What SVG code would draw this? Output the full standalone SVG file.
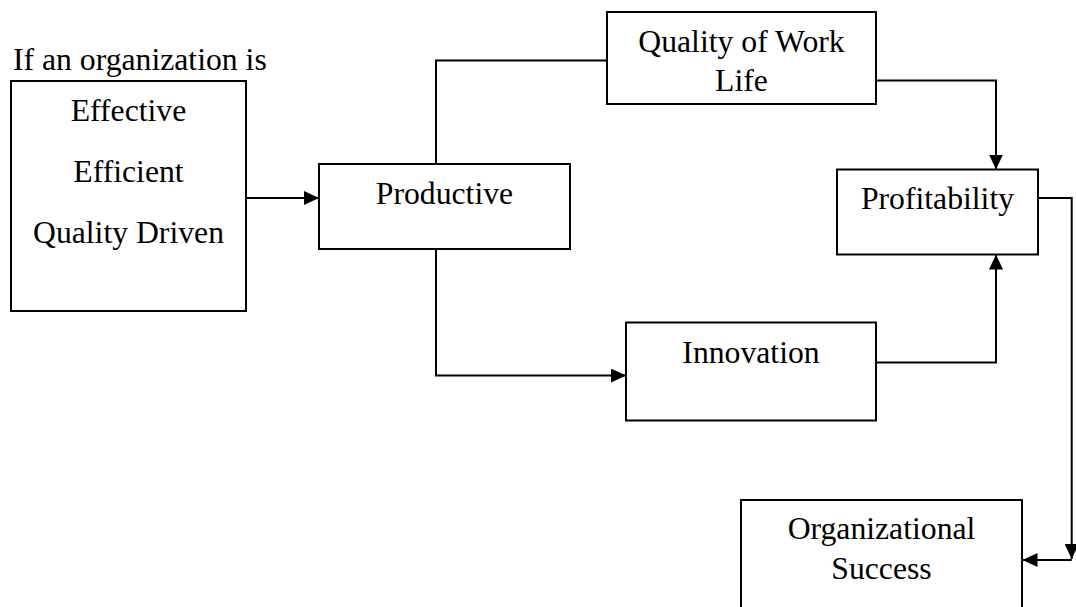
<svg xmlns="http://www.w3.org/2000/svg" width="1076" height="607" viewBox="0 0 1076 607">
  <defs>
    <marker id="arrow" markerUnits="userSpaceOnUse" markerWidth="15" markerHeight="14" refX="15" refY="7" orient="auto">
      <path d="M0,0 L15,7 L0,14 Z" fill="#000"/>
    </marker>
    <style>
      .box { fill: #fff; stroke: #000; stroke-width: 2; }
      .wire { fill: none; stroke: #000; stroke-width: 2; }
      .lbl { font-family: "Liberation Serif", "Times New Roman", serif; font-size: 31.7px; fill: #000; text-anchor: middle; }
      .cap { font-family: "Liberation Serif", "Times New Roman", serif; font-size: 31.7px; fill: #000; }
    </style>
  </defs>
  <rect width="1076" height="607" fill="#fff"/>

  <g id="connectors">
    <path class="wire" d="M246,198 H319" marker-end="url(#arrow)"/>
    <path class="wire" d="M436,170 V60.5 H607"/>
    <path class="wire" d="M876,80.5 H996 V169.5" marker-end="url(#arrow)"/>
    <path class="wire" d="M436,249 V375.5 H626" marker-end="url(#arrow)"/>
    <path class="wire" d="M876,362.5 H996 V254.5" marker-end="url(#arrow)"/>
    <path class="wire" d="M1038,198 H1071.7 V559" marker-end="url(#arrow)"/>
    <path class="wire" d="M1071.7,560 H1022.5" marker-end="url(#arrow)"/>
  </g>

  <g id="org-traits">
    <text class="cap" x="13" y="70">If an organization is</text>
    <rect class="box" x="11" y="81" width="235" height="230"/>
    <text class="lbl" x="128.5" y="121">Effective</text>
    <text class="lbl" x="128.5" y="182">Efficient</text>
    <text class="lbl" x="128.5" y="242.5">Quality Driven</text>
  </g>

  <g id="productive">
    <rect class="box" x="319" y="164" width="251" height="85"/>
    <text class="lbl" x="444.5" y="204">Productive</text>
  </g>

  <g id="quality-of-work-life">
    <rect class="box" x="607" y="12" width="269" height="92"/>
    <text class="lbl" x="741.5" y="52">Quality of Work</text>
    <text class="lbl" x="741.5" y="91">Life</text>
  </g>

  <g id="profitability">
    <rect class="box" x="837" y="169.5" width="201" height="85"/>
    <text class="lbl" x="937.5" y="209">Profitability</text>
  </g>

  <g id="innovation">
    <rect class="box" x="626" y="322.5" width="250" height="98"/>
    <text class="lbl" x="751" y="363">Innovation</text>
  </g>

  <g id="organizational-success">
    <rect class="box" x="741" y="500" width="281" height="130"/>
    <text class="lbl" x="881.5" y="538.5">Organizational</text>
    <text class="lbl" x="881.5" y="578.5">Success</text>
  </g>
</svg>
